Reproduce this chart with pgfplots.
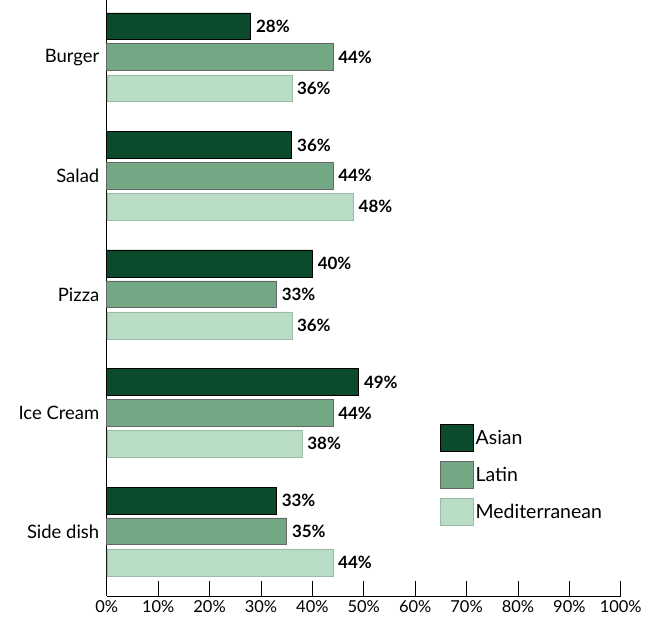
\documentclass[border=0pt]{standalone}
\usepackage{fontspec}
\setmainfont{Lato}
\usepackage{pgfplots}
\pgfplotsset{compat=1.18}
\definecolor{asian}{HTML}{0B4A2A}
\definecolor{latin}{HTML}{72A883}
\definecolor{med}{HTML}{B8DCC4}
\begin{document}
\begin{tikzpicture}
\begin{axis}[
  scale only axis, width=515pt, height=597pt,
  xbar, bar width=27pt, bar shift=0pt,
  xmin=0, xmax=100, ymin=-0.547, ymax=4.48,
  axis lines*=left,
  axis line style={black, line width=0.9pt},
  /pgf/number format/assume math mode=true,
  xtick={0,10,...,100},
  xticklabel={\pgfmathprintnumber{\tick}\%},
  xtick pos=bottom, tick align=inside,
  major tick length=15pt,
  x tick style={black, line width=0.9pt},
  x tick label style={font=\fontsize{16.5}{18}\selectfont, yshift=-1pt},
  ytick={0,1,2,3,4},
  yticklabels={Side dish, Ice Cream, Pizza, Salad, Burger},
  y tick style={draw=none},
  y tick label style={font=\fontsize{18.5}{20}\selectfont, xshift=-4pt},
  nodes near coords={\pgfmathprintnumber{\pgfplotspointmeta}\%},
  nodes near coords align=horizontal,
  every node near coord/.style={font=\bfseries\fontsize{17}{19}\selectfont, black, inner sep=5pt},
  clip=false,
  legend style={at={(rel axis cs:0.642,0.292)}, anchor=north west, draw=none, fill=none,
    font=\fontsize{19.5}{21}\selectfont, row sep=9pt, /tikz/every even column/.append style={column sep=6pt}},
  legend cell align=left,
  legend image code/.code={\draw[#1, bar shift=0pt] (0pt,-13.5pt) rectangle (33pt,13.5pt);},
]
\addplot[fill=asian, draw=black, line width=0.8pt] coordinates {(28,4.261) (36,3.261) (40,2.261) (49,1.261) (33,0.261)};
\addplot[fill=latin, draw=black!60, line width=0.8pt] coordinates {(44,4) (44,3) (33,2) (44,1) (35,0)};
\addplot[fill=med, draw=med!85!black, line width=0.5pt] coordinates {(36,3.739) (48,2.739) (36,1.739) (38,0.739) (44,-0.261)};
\legend{Asian, Latin, Mediterranean}
\coordinate (bl) at (rel axis cs:0,0);
\coordinate (tr) at (rel axis cs:1,1);
\end{axis}
\path[use as bounding box] ([shift={(-107pt,-24pt)}]bl) rectangle ([shift={(23pt,0pt)}]tr);
\end{tikzpicture}
\end{document}
